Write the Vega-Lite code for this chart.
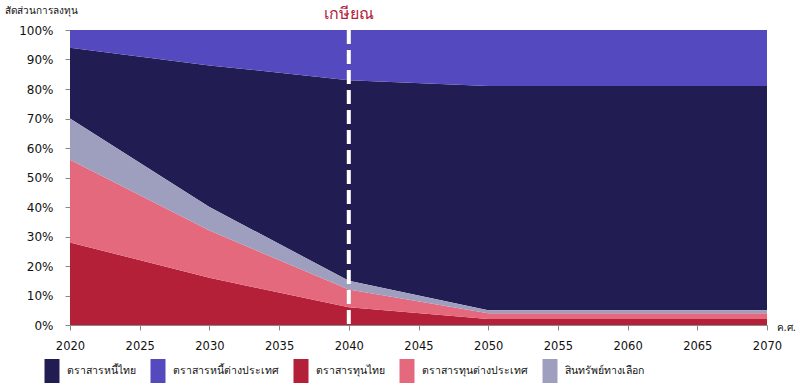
{
  "$schema": "https://vega.github.io/schema/vega-lite/v6.json",
  "width": 697,
  "height": 295,
  "autosize": {"type": "none"},
  "padding": {"left": 70, "top": 30, "right": 36, "bottom": 64},
  "background": "white",
  "config": {
    "view": {"stroke": null},
    "font": "DejaVu Sans",
    "axis": {"grid": false, "domainColor": "#888888", "tickColor": "#888888", "labelColor": "#111111", "labelFont": "DejaVu Sans"}
  },
  "datasets": {
    "alloc": [
      {"year": 2020, "asset": "ตราสารหนี้ไทย", "pct": 24, "stackOrder": 4},
      {"year": 2020, "asset": "ตราสารหนี้ต่างประเทศ", "pct": 6, "stackOrder": 5},
      {"year": 2020, "asset": "ตราสารทุนไทย", "pct": 28, "stackOrder": 1},
      {"year": 2020, "asset": "ตราสารทุนต่างประเทศ", "pct": 28, "stackOrder": 2},
      {"year": 2020, "asset": "สินทรัพย์ทางเลือก", "pct": 14, "stackOrder": 3},
      {"year": 2030, "asset": "ตราสารหนี้ไทย", "pct": 48, "stackOrder": 4},
      {"year": 2030, "asset": "ตราสารหนี้ต่างประเทศ", "pct": 12, "stackOrder": 5},
      {"year": 2030, "asset": "ตราสารทุนไทย", "pct": 16, "stackOrder": 1},
      {"year": 2030, "asset": "ตราสารทุนต่างประเทศ", "pct": 16, "stackOrder": 2},
      {"year": 2030, "asset": "สินทรัพย์ทางเลือก", "pct": 8, "stackOrder": 3},
      {"year": 2040, "asset": "ตราสารหนี้ไทย", "pct": 68, "stackOrder": 4},
      {"year": 2040, "asset": "ตราสารหนี้ต่างประเทศ", "pct": 17, "stackOrder": 5},
      {"year": 2040, "asset": "ตราสารทุนไทย", "pct": 6, "stackOrder": 1},
      {"year": 2040, "asset": "ตราสารทุนต่างประเทศ", "pct": 6, "stackOrder": 2},
      {"year": 2040, "asset": "สินทรัพย์ทางเลือก", "pct": 3, "stackOrder": 3},
      {"year": 2050, "asset": "ตราสารหนี้ไทย", "pct": 76, "stackOrder": 4},
      {"year": 2050, "asset": "ตราสารหนี้ต่างประเทศ", "pct": 19, "stackOrder": 5},
      {"year": 2050, "asset": "ตราสารทุนไทย", "pct": 2, "stackOrder": 1},
      {"year": 2050, "asset": "ตราสารทุนต่างประเทศ", "pct": 2, "stackOrder": 2},
      {"year": 2050, "asset": "สินทรัพย์ทางเลือก", "pct": 1, "stackOrder": 3},
      {"year": 2070, "asset": "ตราสารหนี้ไทย", "pct": 76, "stackOrder": 4},
      {"year": 2070, "asset": "ตราสารหนี้ต่างประเทศ", "pct": 19, "stackOrder": 5},
      {"year": 2070, "asset": "ตราสารทุนไทย", "pct": 2, "stackOrder": 1},
      {"year": 2070, "asset": "ตราสารทุนต่างประเทศ", "pct": 2, "stackOrder": 2},
      {"year": 2070, "asset": "สินทรัพย์ทางเลือก", "pct": 1, "stackOrder": 3}
    ],
    "retire": [{"year": 2040, "label": "เกษียณ"}]
  },
  "layer": [
    {
      "data": {"name": "alloc"},
      "mark": {"type": "area", "interpolate": "linear"},
      "encoding": {
        "x": {
          "field": "year", "type": "quantitative",
          "scale": {"domain": [2020, 2070], "nice": false, "zero": false},
          "axis": {
            "values": [2020, 2025, 2030, 2035, 2040, 2045, 2050, 2055, 2060, 2065, 2070],
            "format": "d", "labelFontSize": 11.5, "labelPadding": 10, "tickSize": 5,
            "labelFlush": false, "labelOverlap": false,
            "title": "ค.ศ.", "titleFontSize": 10, "titleFontWeight": "normal", "titleColor": "#111111",
            "titleX": 706, "titleY": 2, "titleAlign": "left", "titleBaseline": "middle", "titleAnchor": null
          }
        },
        "y": {
          "field": "pct", "type": "quantitative", "stack": "zero",
          "scale": {"domain": [0, 100], "nice": false},
          "axis": {
            "values": [0, 10, 20, 30, 40, 50, 60, 70, 80, 90, 100],
            "labelExpr": "datum.value + '%'", "labelFontSize": 12, "labelPadding": 12, "tickSize": 5,
            "labelOverlap": false, "labelFlush": false,
            "title": "สัดส่วนการลงทุน", "titleAngle": 0, "titleFontSize": 10, "titleFontWeight": "normal", "titleColor": "#111111",
            "titleX": -66, "titleY": -20, "titleAlign": "left", "titleBaseline": "middle"
          }
        },
        "order": {"field": "stackOrder", "type": "quantitative"},
        "color": {
          "field": "asset", "type": "nominal",
          "scale": {
            "domain": ["ตราสารหนี้ไทย", "ตราสารหนี้ต่างประเทศ", "ตราสารทุนไทย", "ตราสารทุนต่างประเทศ", "สินทรัพย์ทางเลือก"],
            "range": ["#211C52", "#5549BF", "#B42038", "#E4697C", "#9E9EBF"]
          },
          "legend": {
            "title": null, "orient": "none", "direction": "horizontal",
            "legendX": -30, "legendY": 329, "padding": 0,
            "symbolType": "M-0.625,-1H0.625V1H-0.625Z", "symbolSize": 576, "symbolStrokeWidth": 0, "symbolOpacity": 1,
            "labelFontSize": 10.5, "labelColor": "#111111", "labelOffset": 3, "columnPadding": 10
          }
        }
      }
    },
    {
      "data": {"name": "retire"},
      "mark": {"type": "rule", "color": "white", "strokeWidth": 4, "strokeDash": [14, 6]},
      "encoding": {"x": {"field": "year", "type": "quantitative"}}
    },
    {
      "data": {"name": "retire"},
      "mark": {"type": "text", "color": "#B42038", "fontSize": 16, "dy": -16, "baseline": "middle", "align": "center"},
      "encoding": {
        "x": {"field": "year", "type": "quantitative"},
        "y": {
          "datum": 100, "type": "quantitative",
          "axis": {
            "values": [0, 10, 20, 30, 40, 50, 60, 70, 80, 90, 100],
            "labelExpr": "datum.value + '%'", "labelFontSize": 12, "labelPadding": 12, "tickSize": 5,
            "labelOverlap": false, "labelFlush": false,
            "title": "สัดส่วนการลงทุน", "titleAngle": 0, "titleFontSize": 10, "titleFontWeight": "normal", "titleColor": "#111111",
            "titleX": -66, "titleY": -20, "titleAlign": "left", "titleBaseline": "middle"
          }
        },
        "text": {"field": "label"}
      }
    }
  ]
}
